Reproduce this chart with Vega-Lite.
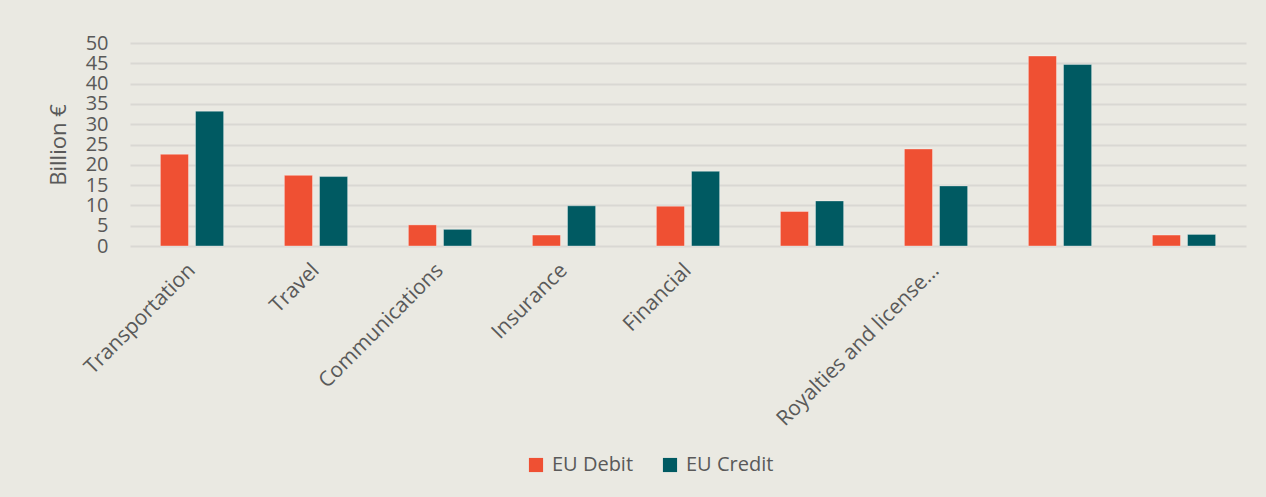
{
  "$schema": "https://vega.github.io/schema/vega-lite/v6.json",
  "autosize": "none",
  "width": 1116,
  "height": 203,
  "padding": {"left": 130, "top": 43, "right": 20, "bottom": 251},
  "background": "#eae9e2",
  "data": {
    "values": [
      {"category": "Transportation", "order": 1, "series": "EU Debit", "value": 22.6},
      {"category": "Transportation", "order": 1, "series": "EU Credit", "value": 33.2},
      {"category": "Travel", "order": 2, "series": "EU Debit", "value": 17.4},
      {"category": "Travel", "order": 2, "series": "EU Credit", "value": 17.1},
      {"category": "Communications", "order": 3, "series": "EU Debit", "value": 5.2},
      {"category": "Communications", "order": 3, "series": "EU Credit", "value": 4.1},
      {"category": "Insurance", "order": 4, "series": "EU Debit", "value": 2.7},
      {"category": "Insurance", "order": 4, "series": "EU Credit", "value": 9.9},
      {"category": "Financial", "order": 5, "series": "EU Debit", "value": 9.8},
      {"category": "Financial", "order": 5, "series": "EU Credit", "value": 18.4},
      {"category": " ", "order": 6, "series": "EU Debit", "value": 8.5},
      {"category": " ", "order": 6, "series": "EU Credit", "value": 11.1},
      {"category": "Royalties and license...", "order": 7, "series": "EU Debit", "value": 23.9},
      {"category": "Royalties and license...", "order": 7, "series": "EU Credit", "value": 14.8},
      {"category": "  ", "order": 8, "series": "EU Debit", "value": 46.8},
      {"category": "  ", "order": 8, "series": "EU Credit", "value": 44.7},
      {"category": "   ", "order": 9, "series": "EU Debit", "value": 2.7},
      {"category": "   ", "order": 9, "series": "EU Credit", "value": 2.85}
    ]
  },
  "mark": {"type": "bar", "stroke": "#ffffff", "strokeOpacity": 0.35, "strokeWidth": 1},
  "encoding": {
    "x": {
      "field": "category",
      "type": "nominal",
      "sort": {"field": "order", "op": "min"},
      "scale": {"paddingInner": 0.49, "paddingOuter": 0.245},
      "axis": {
        "title": null,
        "labelAngle": -45,
        "labelAlign": "right",
        "labelBaseline": "middle",
        "labelPadding": 21,
        "labelFontSize": 21,
        "labelColor": "#595959",
        "labelFont": "Open Sans",
        "labelLimit": 400,
        "domain": false,
        "ticks": false,
        "labelOverlap": false
      }
    },
    "xOffset": {
      "field": "series",
      "type": "nominal",
      "sort": ["EU Debit", "EU Credit"],
      "scale": {"paddingInner": 0.2, "paddingOuter": 0}
    },
    "y": {
      "field": "value",
      "type": "quantitative",
      "scale": {"domain": [0, 50], "nice": false},
      "axis": {
        "title": "Billion €",
        "titleFont": "Open Sans",
        "titleFontWeight": "normal",
        "titleFontSize": 22,
        "titleColor": "#595959",
        "titlePadding": 15,
        "values": [0, 5, 10, 15, 20, 25, 30, 35, 40, 45, 50],
        "labelFont": "Open Sans",
        "labelFontSize": 20,
        "labelColor": "#595959",
        "labelPadding": 22,
        "labelOverlap": false,
        "domain": false,
        "ticks": false,
        "gridColor": "#d9d8d3",
        "gridWidth": 2
      }
    },
    "color": {
      "field": "series",
      "type": "nominal",
      "sort": ["EU Debit", "EU Credit"],
      "scale": {"domain": ["EU Debit", "EU Credit"], "range": ["#ef5033", "#005a62"]},
      "legend": {
        "title": null,
        "orient": "none",
        "direction": "horizontal",
        "legendX": 396,
        "legendY": 412,
        "symbolType": "square",
        "symbolSize": 200,
        "symbolStrokeWidth": 0,
        "labelFont": "Open Sans",
        "labelFontSize": 20,
        "labelColor": "#595959",
        "columnPadding": 26,
        "labelOffset": 6
      }
    }
  },
  "config": {"view": {"stroke": null}}
}
